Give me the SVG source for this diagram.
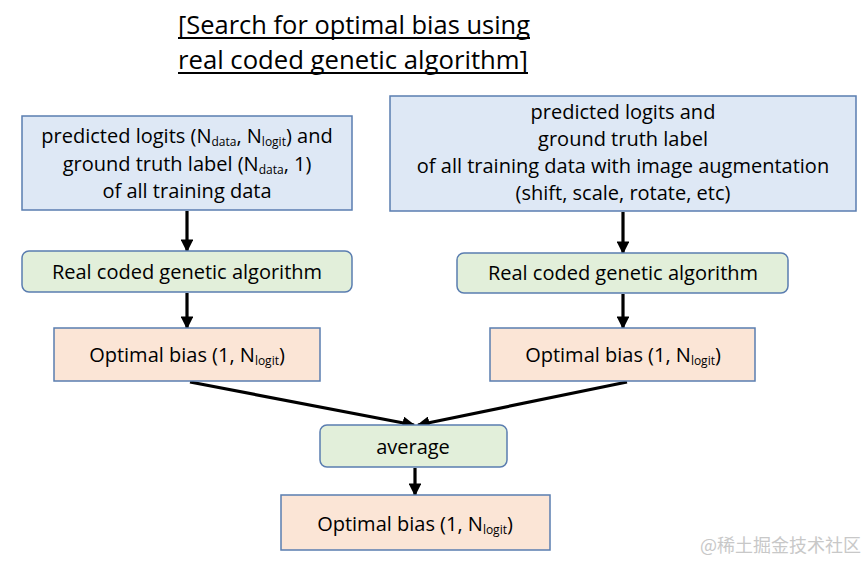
<svg xmlns="http://www.w3.org/2000/svg" width="864" height="563" viewBox="0 0 864 563">
<defs>
<style>
.t{font-family:"Open Sans","Liberation Sans",sans-serif;font-size:20px;fill:#000;text-anchor:middle}
.title{font-family:"Open Sans","Liberation Sans",sans-serif;font-size:25px;fill:#000}
.ul{stroke:#000;stroke-width:1.8}
.sub{font-size:12px}
.blue{fill:#dee8f5;stroke:#5a7db0;stroke-width:1.5}
.green{fill:#e2efda;stroke:#5a7db0;stroke-width:1.5}
.orange{fill:#fbe5d6;stroke:#5a7db0;stroke-width:1.5}
.c{stroke:#000;stroke-width:3.2;fill:none;marker-end:url(#ah)}
.wm{font-family:"Noto Sans CJK SC",sans-serif;font-size:18px;fill:#c8c8c8}
</style>
<marker id="ah" viewBox="0 0 10 10" refX="9" refY="5" markerWidth="4" markerHeight="4" orient="auto" markerUnits="strokeWidth">
<path d="M0,0 L10,5 L0,10 z" fill="#000"/>
</marker>
</defs>
<rect width="864" height="563" fill="#fff"/>
<g id="title">
<text class="title" x="178" y="34" textLength="352" lengthAdjust="spacingAndGlyphs">[Search for optimal bias using</text>
<text class="title" x="178" y="69" textLength="350" lengthAdjust="spacingAndGlyphs">real coded genetic algorithm]</text>
<line class="ul" x1="178" y1="38" x2="530" y2="38"/>
<line class="ul" x1="178" y1="73" x2="528" y2="73"/>
</g>
<g id="connectors">
<line class="c" x1="187" y1="211" x2="187" y2="251"/>
<line class="c" x1="623" y1="212" x2="623" y2="253"/>
<line class="c" x1="187" y1="293" x2="187" y2="328"/>
<line class="c" x1="623" y1="294" x2="623" y2="328"/>
<line class="c" x1="190" y1="382" x2="414" y2="425"/>
<line class="c" x1="627" y1="382" x2="418" y2="425"/>
<line class="c" x1="415" y1="468" x2="415" y2="495"/>
</g>
<g id="input1">
<rect class="blue" x="22" y="116" width="330" height="94"/>
<text class="t" x="187" y="143">predicted logits (N<tspan class="sub" dy="3">data</tspan><tspan dy="-3">, N</tspan><tspan class="sub" dy="3">logit</tspan><tspan dy="-3">) and</tspan></text>
<text class="t" x="187" y="171">ground truth label (N<tspan class="sub" dy="3">data</tspan><tspan dy="-3">, 1)</tspan></text>
<text class="t" x="187" y="198">of all training data</text>
</g>
<g id="input2">
<rect class="blue" x="390" y="96" width="466" height="115"/>
<text class="t" x="623" y="119">predicted logits and</text>
<text class="t" x="623" y="146">ground truth label</text>
<text class="t" x="623" y="173">of all training data with image augmentation</text>
<text class="t" x="623" y="200">(shift, scale, rotate, etc)</text>
</g>
<g id="ga1">
<rect class="green" x="22" y="251" width="330" height="41" rx="7"/>
<text class="t" x="187" y="279">Real coded genetic algorithm</text>
</g>
<g id="ga2">
<rect class="green" x="457" y="253" width="331" height="40" rx="7"/>
<text class="t" x="623" y="280">Real coded genetic algorithm</text>
</g>
<g id="bias1">
<rect class="orange" x="54" y="328" width="266" height="53"/>
<text class="t" x="187" y="362">Optimal bias (1, N<tspan class="sub" dy="3">logit</tspan><tspan dy="-3">)</tspan></text>
</g>
<g id="bias2">
<rect class="orange" x="490" y="328" width="265" height="53"/>
<text class="t" x="623" y="362">Optimal bias (1, N<tspan class="sub" dy="3">logit</tspan><tspan dy="-3">)</tspan></text>
</g>
<g id="average">
<rect class="green" x="320" y="425" width="187" height="42" rx="7"/>
<text class="t" x="413" y="454">average</text>
</g>
<g id="bias3">
<rect class="orange" x="281" y="495" width="269" height="55"/>
<text class="t" x="415" y="531">Optimal bias (1, N<tspan class="sub" dy="3">logit</tspan><tspan dy="-3">)</tspan></text>
</g>
<text class="wm" x="700" y="552">@稀土掘金技术社区</text>
</svg>
